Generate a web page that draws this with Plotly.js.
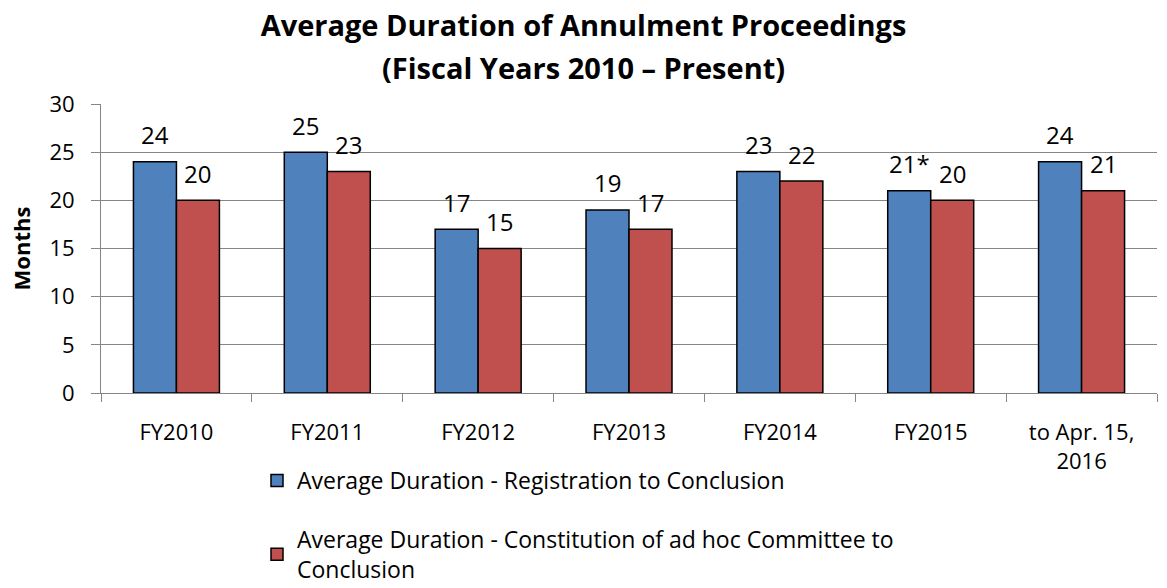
<!DOCTYPE html>
<html>
<head>
<meta charset="utf-8">
<script src="https://cdn.plot.ly/plotly-3.0.1.min.js"></script>
<style>html,body{margin:0;padding:0;background:#fff;}#chart{width:1167px;height:588px;}</style>
</head>
<body>
<div id="chart"></div>
<script>
const categories = ["FY2010","FY2011","FY2012","FY2013","FY2014","FY2015","to Apr. 15,<br>2016"];
const registrationValues = [24,25,17,19,23,21,24];
const registrationLabels = ["24","25","17","19","23","21*","24"];
const committeeValues = [20,23,15,17,22,20,21];
const committeeLabels = ["20","23","15","17","22","20","21"];
const seriesNames = ["Average Duration - Registration to Conclusion",
  "Average Duration - Constitution of ad hoc Committee to<br>Conclusion"];
const yTicks = [0,5,10,15,20,25,30];
const titleLine1 = "Average Duration of Annulment Proceedings";
const titleLine2 = "(Fiscal Years 2010 – Present)";

const FONT = "Open Sans, Liberation Sans, sans-serif";

const traces = [
  {type:"bar", x:categories, y:registrationValues, name:seriesNames[0], legendgroup:"a",
   marker:{color:"#4F81BD", line:{color:"#000", width:1.5}}, hoverinfo:"skip"},
  {type:"bar", x:categories, y:committeeValues, name:seriesNames[1], legendgroup:"b",
   marker:{color:"#C0504D", line:{color:"#000", width:1.5}}, hoverinfo:"skip"}
];

const annotations = [];
categories.forEach((c,i)=>{
  annotations.push({x:c, y:registrationValues[i], text:registrationLabels[i], xref:"x", yref:"y",
    showarrow:false, xshift:-21.5, yshift:27, yanchor:"middle", font:{family:FONT,size:24,color:"#000"}});
  annotations.push({x:c, y:committeeValues[i], text:committeeLabels[i], xref:"x", yref:"y",
    showarrow:false, xshift:21.5, yshift:27, yanchor:"middle", font:{family:FONT,size:24,color:"#000"}});
});
annotations.push({text:"<b>"+titleLine2+"</b>", xref:"paper", yref:"paper", x:(583.5-101)/1056, y:1+(104-67)/289,
  xanchor:"center", yanchor:"middle", showarrow:false, font:{family:FONT, size:29, color:"#000"}});

const layout = {
  width:1167, height:588,
  margin:{l:101, r:10, t:104, b:195, autoexpand:false},
  paper_bgcolor:"#fff", plot_bgcolor:"#fff",
  font:{family:FONT, color:"#000"},
  title:{text:"<b>"+titleLine1+"</b>",
    x:0.5, xref:"container", xanchor:"center", y:1-26/588, yref:"container", yanchor:"middle",
    font:{family:FONT, size:29, color:"#000"}},
  barmode:"group", bargap:0.43, bargroupgap:0,
  xaxis:{type:"category", tickson:"boundaries", ticks:"outside", ticklen:8, tickcolor:"#868686",
    showline:true, linecolor:"#868686", linewidth:1, showgrid:false, ticklabelstandoff:20,
    tickfont:{family:FONT, size:22, color:"#000"}, automargin:false},
  yaxis:{range:[0,30], tickvals:yTicks, ticks:"outside", ticklen:9, tickcolor:"#868686",
    showline:true, linecolor:"#868686", linewidth:1, showgrid:true, gridcolor:"#868686", gridwidth:1,
    zeroline:false, tickfont:{family:FONT, size:22, color:"#000"}, ticklabelstandoff:12,
    title:{text:"<b>Months</b>", font:{family:FONT, size:22, color:"#000"}, standoff:12}, automargin:false},
  showlegend:true,
  legend:{orientation:"v", x:(257-101)/1056, xanchor:"left", y:1-459/588, yref:"container", yanchor:"top",
    font:{family:FONT, size:23, color:"#000"}, tracegroupgap:26, itemwidth:30, bgcolor:"rgba(0,0,0,0)"},
  annotations:annotations
};

Plotly.newPlot("chart", traces, layout, {staticPlot:true, displayModeBar:false});
</script>
</body>
</html>
